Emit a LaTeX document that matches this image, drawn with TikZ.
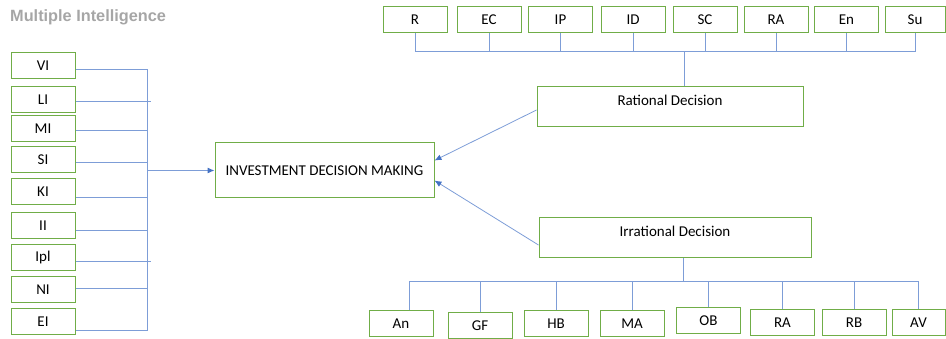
\documentclass[tikz,border=0pt]{standalone}
\usepackage{fontspec}
\setmainfont{Carlito}
\newfontfamily\titlefont{Liberation Sans}
\usepackage{tikz}
\usetikzlibrary{positioning,arrows.meta}
\definecolor{boxgreen}{RGB}{112,173,71}
\definecolor{linkblue}{RGB}{125,157,215}
\definecolor{arrblue}{RGB}{68,114,196}
\definecolor{titlegray}{RGB}{166,166,166}
\tikzset{
  mi/.style     ={draw=boxgreen, rectangle, line width=1pt, align=center, minimum width=64pt, minimum height=26pt, inner sep=0pt, font=\fontsize{15}{17}\selectfont},
  decbox/.style ={draw=boxgreen, rectangle, line width=1pt, align=center, minimum height=40pt, inner sep=0pt, text height=10.5pt, text depth=12.5pt, font=\fontsize{15}{17}\selectfont},
  mainbox/.style={draw=boxgreen, rectangle, line width=1pt, align=center, minimum width=219pt, minimum height=55pt, inner sep=0pt, font=\fontsize{15}{17}\selectfont},
  link/.style   ={draw=linkblue, line width=0.8pt},
  arr/.style    ={draw=linkblue, line width=0.8pt, -{Latex[length=7pt,width=6pt,color=arrblue]}},
}

\begin{document}
\begin{tikzpicture}[x=1pt,y=-1pt]
  \useasboundingbox (0,0) rectangle (946,339);
  \node[anchor=base west, inner sep=0pt, text=titlegray, font=\titlefont\bfseries\fontsize{16.3}{18}\selectfont] (title) at (10,22) {Multiple Intelligence};

  % intelligences
  \node[mi] (vi)  at (43,65.5)  {VI};
  \node[mi] (li)  at (43,99.5)  {LI};
  \node[mi] (mi)  at (43,128.5) {MI};
  \node[mi] (si)  at (43,159.5) {SI};
  \node[mi] (ki)  at (43,192)   {KI};
  \node[mi] (ii)  at (43,225.5) {II};
  \node[mi] (ipl) at (43,258)   {Ipl};
  \node[mi] (ni)  at (43,289.5) {NI};
  \node[mi] (ei)  at (43,322)   {EI};

  \node[mainbox] (idm) at (324.5,170.5) {INVESTMENT DECISION MAKING};
  \node[decbox, minimum width=266pt] (rat) at (670,107) {Rational Decision};
  \node[decbox, minimum width=272pt] (irr) at (675,238) {Irrational Decision};

  % rational factors
  \node[mi] (r)  at (415,20)   {R};
  \node[mi] (ec) at (489,20)   {EC};
  \node[mi] (ip) at (560.5,20) {IP};
  \node[mi] (id) at (633,20)   {ID};
  \node[mi] (sc) at (705,20)   {SC};
  \node[mi] (ra) at (776,20)   {RA};
  \node[mi] (en) at (846.5,20) {En};
  \node[mi, minimum width=60pt] (su) at (915,20) {Su};

  % irrational factors
  \node[mi] (an)  at (401,324)     {An};
  \node[mi] (gf)  at (480,326)     {GF};
  \node[mi] (hb)  at (556,324)     {HB};
  \node[mi] (ma)  at (632,324)     {MA};
  \node[mi] (ob)  at (708.5,320.5) {OB};
  \node[mi] (rai) at (782.5,323)   {RA};
  \node[mi] (rb)  at (854,323)     {RB};
  \node[mi, minimum width=53pt] (av) at (918.5,323) {AV};

  \coordinate (lbus) at (147,0);
  \coordinate (lbusx) at (151,0);
  \coordinate (tbus) at (0,51);
  \coordinate (bbus) at (0,281);

  % left tree
  \draw[link] ([yshift=-3.5pt]vi.east) -- ([yshift=-3.5pt]vi.east -| lbus) -- ([yshift=-8pt]ei.east -| lbus) -- ([yshift=-8pt]ei.east);
  \draw[link] ([yshift=-1.5pt]li.east) -- ([yshift=-1.5pt]li.east -| lbusx);
  \draw[link] ([yshift=-1.5pt]mi.east) -- ([yshift=-1.5pt]mi.east -| lbus);
  \draw[link] ([yshift=-2.5pt]si.east) -- ([yshift=-2.5pt]si.east -| lbus);
  \draw[link] ([yshift=-5pt]ki.east) -- ([yshift=-5pt]ki.east -| lbus);
  \draw[link] ([yshift=-4.5pt]ii.east) -- ([yshift=-4.5pt]ii.east -| lbus);
  \draw[link] ([yshift=-3pt]ipl.east) -- ([yshift=-3pt]ipl.east -| lbusx);
  \draw[link] ([yshift=1.5pt]ni.east) -- ([yshift=1.5pt]ni.east -| lbus);
  \draw[arr, line width=1pt] (idm.west -| lbus) -- (idm.west);

  % top tree
  \draw[link] (r.south) -- (r.south |- tbus) -- (su.south |- tbus) -- (su.south);
  \draw[link] (ec.south) -- (ec.south |- tbus);
  \draw[link] (ip.south) -- (ip.south |- tbus);
  \draw[link] (id.south) -- (id.south |- tbus);
  \draw[link] (sc.south) -- (sc.south |- tbus);
  \draw[link] (ra.south) -- (ra.south |- tbus);
  \draw[link] (en.south) -- (en.south |- tbus);
  \draw[link] ([xshift=14pt]rat.north) -- ([xshift=14pt]rat.north |- tbus);

  % bottom tree
  \draw[link] ([xshift=8pt]irr.south) -- ([xshift=8pt]irr.south |- bbus);
  \draw[link] ([xshift=8pt]an.north) -- ([xshift=8pt]an.north |- bbus) -- (av.north |- bbus) -- (av.north);
  \draw[link] (gf.north) -- (gf.north |- bbus);
  \draw[link] (hb.north) -- (hb.north |- bbus);
  \draw[link] (ma.north) -- (ma.north |- bbus);
  \draw[link] (ob.north) -- (ob.north |- bbus);
  \draw[link] (rai.north) -- (rai.north |- bbus);
  \draw[link] (rb.north) -- (rb.north |- bbus);

  \draw[arr] ([yshift=-3pt]rat.west) -- ([yshift=10pt]idm.east);
  \draw[arr] ([yshift=-7pt]irr.west) -- ([yshift=-10pt]idm.east);
\end{tikzpicture}
\end{document}
